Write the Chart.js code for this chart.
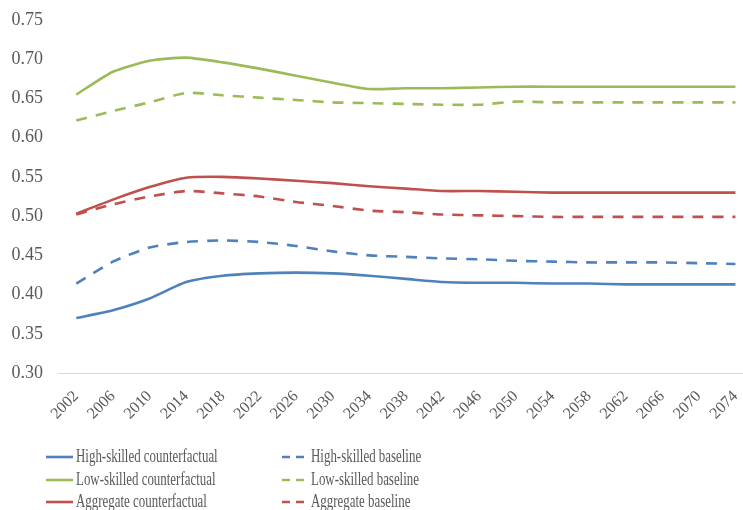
<!DOCTYPE html>
<html>
<head>
<meta charset="utf-8">
<script src="https://cdn.jsdelivr.net/npm/chart.js@4/dist/chart.umd.min.js"></script>
<style>
  html, body { margin: 0; padding: 0; background: #fff; overflow: hidden; }
</style>
</head>
<body>
<canvas id="chart" width="755" height="510"></canvas>
<script>
/* ---------- DATA ---------- */
const years = ["2002","2006","2010","2014","2018","2022","2026","2030","2034","2038",
               "2042","2046","2050","2054","2058","2062","2066","2070","2074"];

const highCounter = [0.370,0.380,0.395,0.416,0.424,0.427,0.428,0.427,0.424,0.420,
                     0.416,0.415,0.415,0.414,0.414,0.413,0.413,0.413,0.413];
const highBase    = [0.414,0.442,0.460,0.467,0.469,0.467,0.462,0.455,0.450,0.448,
                     0.446,0.445,0.443,0.442,0.441,0.441,0.441,0.440,0.439];
const lowCounter  = [0.655,0.684,0.698,0.702,0.696,0.688,0.679,0.670,0.662,0.663,
                     0.663,0.664,0.665,0.665,0.665,0.665,0.665,0.665,0.665];
const lowBase     = [0.622,0.634,0.645,0.657,0.654,0.651,0.648,0.645,0.644,0.643,
                     0.642,0.642,0.646,0.645,0.645,0.645,0.645,0.645,0.645];
const aggCounter  = [0.503,0.521,0.537,0.549,0.550,0.548,0.545,0.542,0.538,0.535,
                     0.532,0.532,0.531,0.530,0.530,0.530,0.530,0.530,0.530];
const aggBase     = [0.502,0.515,0.525,0.532,0.529,0.525,0.518,0.513,0.507,0.505,
                     0.502,0.501,0.500,0.499,0.499,0.499,0.499,0.499,0.499];

/* ---------- STYLE ---------- */
const BLUE = "#4f81bd", GREEN = "#9bbb59", RED = "#c0504d";
const TEXT = "#595959";
const SERIF = "'Liberation Serif', 'DejaVu Serif', serif";

function series(label, data, color, dashed) {
  return {
    label, data,
    borderColor: color,
    backgroundColor: color,
    borderWidth: 2.6,
    borderDash: dashed ? [11, 9] : [],
    pointRadius: 0,
    tension: 0.2,
    fill: false
  };
}

/* ---------- LEGEND (two columns, drawn on canvas) ---------- */
const splitLegend = {
  id: "splitLegend",
  afterDraw(chart, args, opts) {
    const ctx = chart.ctx;
    chart.data.datasets.forEach((ds, i) => {
      const col = i % 2, row = Math.floor(i / 2);
      const y = opts.rowY[row];
      const [x0, x1] = opts.sample[col];
      ctx.save();
      ctx.strokeStyle = ds.borderColor;
      ctx.lineWidth = 2.6;
      ctx.setLineDash(col === 1 ? [8, 6] : []);
      ctx.beginPath();
      ctx.moveTo(x0, y);
      ctx.lineTo(x1, y);
      ctx.stroke();
      ctx.restore();

      ctx.save();
      ctx.font = "19px " + SERIF;
      ctx.fillStyle = TEXT;
      ctx.textBaseline = "middle";
      ctx.translate(opts.textX[col], y);
      ctx.scale(0.68, 1);
      ctx.fillText(ds.label, 0, 0);
      ctx.restore();
    });
  }
};

/* ---------- CHART ---------- */
new Chart(document.getElementById("chart"), {
  type: "line",
  data: {
    labels: years,
    datasets: [
      series("High-skilled counterfactual", highCounter, BLUE, false),
      series("High-skilled baseline", highBase, BLUE, true),
      series("Low-skilled counterfactual", lowCounter, GREEN, false),
      series("Low-skilled baseline", lowBase, GREEN, true),
      series("Aggregate counterfactual", aggCounter, RED, false),
      series("Aggregate baseline", aggBase, RED, true)
    ]
  },
  options: {
    responsive: false,
    animation: false,
    layout: { padding: { top: 20, right: 0, bottom: 77, left: 0 } },
    plugins: {
      legend: { display: false },
      tooltip: { enabled: false },
      splitLegend: {
        rowY: [457, 480, 502],
        sample: [[46, 73], [282, 304]],
        textX: [76, 311]
      }
    },
    scales: {
      x: {
        offset: true,
        grid: { display: false },
        border: { display: true, color: "#d9d9d9", width: 1 },
        ticks: {
          autoSkip: false,
          minRotation: 45,
          maxRotation: 45,
          padding: 6,
          color: TEXT,
          font: { family: SERIF, size: 16 }
        },
        afterFit: s => { s.height = 60; }
      },
      y: {
        min: 0.30,
        max: 0.75,
        grid: { display: false },
        border: { display: false },
        ticks: {
          stepSize: 0.05,
          padding: 7,
          color: TEXT,
          font: { family: SERIF, size: 18 },
          callback: v => v.toFixed(2)
        },
        afterFit: s => { s.width = 58; }
      }
    }
  },
  plugins: [splitLegend]
});
</script>
</body>
</html>
